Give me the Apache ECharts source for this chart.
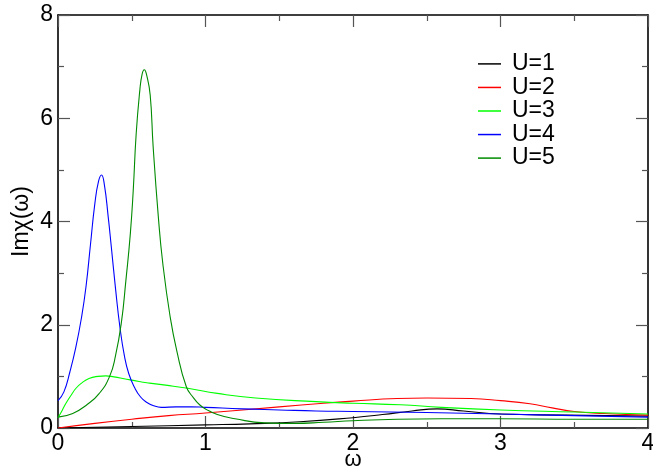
<!DOCTYPE html>
<html>
<head>
<meta charset="utf-8">
<script src="https://cdn.jsdelivr.net/npm/echarts@6/dist/echarts.min.js"></script>
<style>
html,body{margin:0;padding:0;background:#fff;}
#chart{width:653px;height:475px;}
</style>
</head>
<body>
<div id="chart"></div>
<script>
// ---- data ----
const seriesNames = ['U=1', 'U=2', 'U=3', 'U=4', 'U=5'];

const u1X = [0, 0.5, 1.0, 1.3, 1.64, 2.0, 2.2, 2.4, 2.57, 2.75, 3.0, 3.45, 4.0];
const u1Y = [0, 0.03, 0.06, 0.08, 0.12, 0.2, 0.26, 0.33, 0.37, 0.33, 0.27, 0.25, 0.23];

const u2X = [0, 0.25, 0.5, 0.75, 1.0, 1.5, 1.8, 2.0, 2.3, 2.5, 2.8, 3.0, 3.2, 3.35, 3.5, 3.7, 4.0];
const u2Y = [0, 0.09, 0.17, 0.24, 0.29, 0.41, 0.48, 0.52, 0.57, 0.58, 0.57, 0.53, 0.47, 0.39, 0.32, 0.28, 0.25];

const u3X = [0, 0.03, 0.054, 0.09, 0.122, 0.16, 0.21, 0.27, 0.325, 0.38, 0.44, 0.55, 0.62, 0.73, 0.88, 1.08, 1.34, 1.75, 2.0, 2.32, 2.6, 3.0, 3.5, 4.0];
const u3Y = [0.2, 0.35, 0.48, 0.64, 0.77, 0.87, 0.96, 1.0, 1.01, 0.99, 0.96, 0.9, 0.87, 0.83, 0.77, 0.67, 0.58, 0.51, 0.48, 0.45, 0.40, 0.35, 0.31, 0.27];

const u4X = [0, 0.04, 0.08, 0.12, 0.16, 0.19, 0.22, 0.25, 0.275, 0.295, 0.315, 0.34, 0.36, 0.39, 0.42, 0.45, 0.48, 0.52, 0.56, 0.60, 0.65, 0.70, 0.8, 0.9, 1.0, 1.25, 1.5, 1.75, 2.0, 2.5, 3.0, 3.5, 4.0];
const u4Y = [0.53, 0.7, 1.08, 1.55, 2.15, 2.74, 3.55, 4.35, 4.78, 4.9, 4.7, 4.1, 3.55, 2.7, 1.95, 1.4, 1.05, 0.78, 0.6, 0.5, 0.43, 0.40, 0.41, 0.41, 0.40, 0.37, 0.35, 0.33, 0.32, 0.30, 0.27, 0.24, 0.21];

const u5X = [0, 0.1, 0.2, 0.28, 0.35, 0.39, 0.43, 0.46, 0.49, 0.51, 0.53, 0.555, 0.57, 0.585, 0.60, 0.625, 0.645, 0.68, 0.71, 0.76, 0.805, 0.87, 0.92, 0.96, 1.0, 1.08, 1.2, 1.4, 1.6, 1.8, 2.0, 2.3, 2.6, 3.0, 3.5, 4.0];
const u5Y = [0.21, 0.28, 0.46, 0.67, 1.0, 1.4, 2.05, 2.85, 3.75, 4.6, 5.7, 6.55, 6.85, 6.94, 6.85, 6.45, 5.45, 4.1, 3.2, 2.16, 1.5, 0.8, 0.58, 0.45, 0.37, 0.26, 0.18, 0.1, 0.09, 0.11, 0.14, 0.17, 0.18, 0.18, 0.17, 0.17];

const xTicks = [0, 1, 2, 3, 4];
const yTicks = [0, 2, 4, 6, 8];

const colors = ['#000000', '#ff0000', '#00ff00', '#0000ff', '#008b00'];
// ---------------------------------------------

const allX = [u1X, u2X, u3X, u4X, u5X];
const allY = [u1Y, u2Y, u3Y, u4Y, u5Y];

const FONT = "'Liberation Sans', Arial, Helvetica, sans-serif";

function pairs(xs, ys) { return xs.map((x, i) => [x, ys[i]]); }

const tickStyle = { show: true, inside: true, length: 12, lineStyle: { color: '#555', width: 1.2 } };
const minorStyle = { show: true, splitNumber: 2, length: 6, lineStyle: { color: '#555', width: 1.2 } };
const lineStyleAxis = { show: true, onZero: false, lineStyle: { color: '#000', width: 1.6 } };

const chart = echarts.init(document.getElementById('chart'), null, { renderer: 'canvas' });

chart.setOption({
  backgroundColor: '#fff',
  animation: false,
  textStyle: { fontFamily: FONT },
  grid: { left: 58, right: 5, top: 15, bottom: 47, containLabel: false, outerBoundsMode: 'none' },
  legend: {
    data: seriesNames,
    icon: 'path://M0,0h23v1.5h-23z',
    symbolKeepAspect: true,
    orient: 'vertical',
    left: 478,
    top: 52.4,
    padding: 0,
    itemWidth: 23,
    itemHeight: 24,
    itemGap: 0.55,
    textStyle: { fontFamily: FONT, fontSize: 23, color: '#000', lineHeight: 20, padding: [0, 0, 0, 6] }
  },
  xAxis: [
    {
      type: 'value', min: xTicks[0], max: xTicks[xTicks.length - 1], interval: 1,
      position: 'bottom',
      name: 'ω', nameLocation: 'middle', nameGap: 21, nameMoveOverlap: false,
      nameTextStyle: { fontFamily: FONT, fontSize: 22, color: '#000' },
      axisLine: lineStyleAxis, axisTick: tickStyle, minorTick: minorStyle,
      splitLine: { show: false },
      axisLabel: { fontFamily: FONT, fontSize: 23, color: '#000', margin: 4 }
    },
    {
      type: 'value', min: xTicks[0], max: xTicks[xTicks.length - 1], interval: 1,
      position: 'top',
      axisLine: lineStyleAxis, axisTick: tickStyle, minorTick: minorStyle,
      splitLine: { show: false }, axisLabel: { show: false }
    }
  ],
  yAxis: [
    {
      type: 'value', min: yTicks[0], max: yTicks[yTicks.length - 1], interval: 2,
      position: 'left',
      name: 'Imχ(ω)', nameLocation: 'middle', nameGap: 25, nameRotate: 90, nameMoveOverlap: false,
      nameTextStyle: { fontFamily: FONT, fontSize: 23, color: '#000' },
      axisLine: lineStyleAxis, axisTick: tickStyle, minorTick: minorStyle,
      splitLine: { show: false },
      axisLabel: { fontFamily: FONT, fontSize: 23, color: '#000', margin: 5 }
    },
    {
      type: 'value', min: yTicks[0], max: yTicks[yTicks.length - 1], interval: 2,
      position: 'right',
      axisLine: lineStyleAxis, axisTick: tickStyle, minorTick: minorStyle,
      splitLine: { show: false }, axisLabel: { show: false }
    }
  ],
  series: seriesNames.map((name, i) => ({
    name: name,
    type: 'line',
    xAxisIndex: 0,
    yAxisIndex: 0,
    data: pairs(allX[i], allY[i]),
    symbol: 'none',
    showSymbol: false,
    smooth: 0.5,
    color: colors[i],
    lineStyle: { color: colors[i], width: 1.1 },
    z: 2 + i
  }))
});
</script>
</body>
</html>
